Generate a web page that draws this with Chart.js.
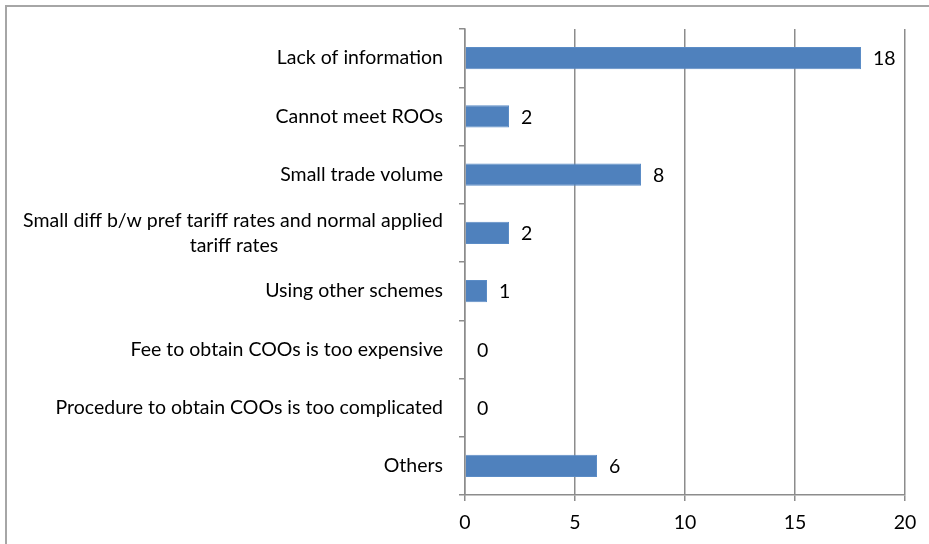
<!DOCTYPE html>
<html>
<head>
<meta charset="utf-8">
<script src="https://cdn.jsdelivr.net/npm/chart.js@4/dist/chart.umd.min.js"></script>
<style>
html,body{margin:0;padding:0;background:#fff;overflow:hidden;}
#wrap{position:relative;width:929px;height:544px;}
#frame{position:absolute;left:5px;top:5px;width:1000px;height:1000px;border:2px solid #a6a6a6;box-sizing:border-box;}
canvas{position:absolute;left:0;top:0;}
</style>
</head>
<body>
<div id="wrap"><div id="frame"></div><canvas id="c" width="929" height="544"></canvas></div>
<script>
const categories = [
  "Lack of information",
  "Cannot meet ROOs",
  "Small trade volume",
  ["Small diff b/w pref tariff rates and normal applied", "tariff rates"],
  "Using other schemes",
  "Fee to obtain COOs is too expensive",
  "Procedure to obtain COOs is too complicated",
  "Others"
];
const values = [18, 2, 8, 2, 1, 0, 0, 6];
const xTicks = [0, 5, 10, 15, 20];

const FONT = "Lato";
const FSIZE = 19.5;

// center the second line of multi-line labels under the first (right-aligned labels)
const mctx = document.createElement('canvas').getContext('2d');
mctx.font = FSIZE + "px " + FONT;
function centerLines(lbl){
  if (!Array.isArray(lbl)) return lbl;
  const w0 = Math.max(...lbl.map(l => mctx.measureText(l).width));
  const sp = mctx.measureText(' ').width;
  return lbl.map(l => {
    const n = Math.round(((w0 - mctx.measureText(l).width) / 2) / sp);
    return l + ' '.repeat(Math.max(0, n));
  });
}
const labels = categories.map(centerLines);

const valueLabels = {
  id: 'valueLabels',
  afterDatasetsDraw(chart){
    const ctx = chart.ctx;
    const meta = chart.getDatasetMeta(0);
    ctx.save();
    ctx.font = FSIZE + "px " + FONT;
    ctx.fillStyle = '#000';
    ctx.textAlign = 'left';
    ctx.textBaseline = 'middle';
    meta.data.forEach((bar, i) => {
      ctx.fillText(String(values[i]), bar.x + 12, bar.y + 1);
    });
    ctx.restore();
  }
};

new Chart(document.getElementById('c'), {
  type: 'bar',
  data: {
    labels: labels,
    datasets: [{
      data: values,
      backgroundColor: '#4F81BD',
      borderColor: '#5b8cc6',
      borderWidth: 1,
      categoryPercentage: 0.38,
      barPercentage: 1.0
    }]
  },
  options: {
    indexAxis: 'y',
    responsive: false,
    animation: false,
    devicePixelRatio: 1,
    layout: { padding: { top: 29, right: 24, left: 0, bottom: 0 } },
    plugins: { legend: { display: false }, tooltip: { enabled: false } },
    scales: {
      x: {
        min: 0, max: 20,
        afterBuildTicks: s => { s.ticks = xTicks.map(v => ({ value: v })); },
        afterFit: s => { s.height = 49; },
        grid: { color: '#8c8c8c', lineWidth: 1.5, tickLength: 6, drawTicks: true },
        border: { color: '#8c8c8c', width: 1.5 },
        ticks: { color: '#000', font: { family: FONT, size: FSIZE }, padding: 10, maxRotation: 0 }
      },
      y: {
        afterFit: s => { s.width = 465; },
        grid: { offset: true, drawOnChartArea: false, color: '#8c8c8c', lineWidth: 1.5, tickLength: 6 },
        border: { color: '#8c8c8c', width: 1.5 },
        ticks: { color: '#000', font: { family: FONT, size: FSIZE, lineHeight: 1.28 }, padding: 16, autoSkip: false }
      }
    }
  },
  plugins: [valueLabels]
});
</script>
</body>
</html>
